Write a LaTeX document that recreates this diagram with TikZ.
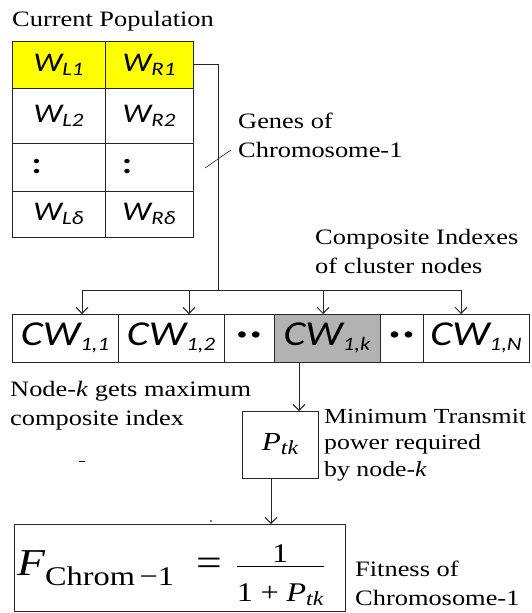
\documentclass[tikz,border=0pt]{standalone}
\usepackage{fontspec}
\setmainfont[FakeStretch=1.2]{Liberation Serif}
\newfontfamily\calib[FakeStretch=1.2]{Carlito}
\usetikzlibrary{arrows.meta, positioning}
\definecolor{geneyellow}{HTML}{FFFF00}
\definecolor{maxgray}{HTML}{B2B2B2}
\newcommand{\gsub}[2]{{\calib\itshape\fontsize{27}{27}\selectfont #1\raisebox{-4pt}{\fontsize{19}{19}\selectfont #2}}}
\newcommand{\cwsub}[1]{{\calib\itshape\fontsize{35}{35}\selectfont CW\raisebox{-5pt}{\fontsize{19}{19}\selectfont #1}}}
\newcommand{\gdots}{{\calib\bfseries\fontsize{30}{30}\selectfont :}}
\newcommand{\skipdots}{{\calib\bfseries\fontsize{34}{34}\selectfont ·\hspace{3pt}·}}
\newcommand{\ptksub}[2]{{\fontsize{#1}{#1}\selectfont\itshape P\raisebox{-4pt}{\fontsize{#2}{#2}\selectfont tk}}}
\newcommand{\fsz}[1]{\mbox{\fontsize{27}{27}\selectfont #1}}

\begin{document}
\begin{tikzpicture}[x=1pt, y=-1pt,
  cell/.style={rectangle, draw=black!85, line width=1pt, inner sep=0pt, outer sep=0pt},
  lbl/.style={font=\fontsize{22}{29}\selectfont, align=left, anchor=base west, inner sep=0pt},
  link/.style={draw=black!85, line width=0.9pt},
  arr/.style={link, -{Straight Barb[length=6pt, width=12pt]}}
]
  \useasboundingbox (0,0) rectangle (531,613);

  % current population table
  \node[lbl] (curpop) at (12,27) {Current Population};
  \node[cell, fill=geneyellow, minimum width=93, minimum height=47] (wl1) at (58.5,64.5) {\gsub{W}{L1}};
  \node[cell, fill=geneyellow, minimum width=88, minimum height=47, right=0pt of wl1] (wr1) {\gsub{W}{R1}};
  \node[cell, minimum width=93, minimum height=55, below=0pt of wl1] (wl2) {\gsub{W}{L2}};
  \node[cell, minimum width=88, minimum height=55, right=0pt of wl2] (wr2) {\gsub{W}{R2}};
  \node[cell, minimum width=93, minimum height=48, below=0pt of wl2] (wl3) {\makebox[54pt][l]{\gdots}};
  \node[cell, minimum width=88, minimum height=48, right=0pt of wl3] (wr3) {\makebox[54pt][l]{\gdots}};
  \node[cell, minimum width=93, minimum height=46, below=0pt of wl3] (wld) {\gsub{W}{Lδ}};
  \node[cell, minimum width=88, minimum height=46, right=0pt of wld] (wrd) {\gsub{W}{Rδ}};

  % chromosome of composite indexes
  \node[cell, minimum width=106, minimum height=48] (cw11) at (65,338) {\cwsub{1,1}};
  \node[cell, minimum width=106, minimum height=48, right=0pt of cw11] (cw12) {\cwsub{1,2}};
  \node[cell, minimum width=50, minimum height=48, right=0pt of cw12] (dd1) {\skipdots};
  \node[cell, fill=maxgray, minimum width=106, minimum height=48, right=0pt of dd1] (cw1k) {\cwsub{1,k}};
  \node[cell, minimum width=43, minimum height=48, right=0pt of cw1k] (dd2) {\skipdots};
  \node[cell, minimum width=106, minimum height=48, right=0pt of dd2] (cw1N) {\cwsub{1,N}};

  \node[cell, minimum width=76, minimum height=67] (ptk) at (280,444.5) {\ptksub{26}{20}};
  \node[cell, minimum width=331, minimum height=87] (fitbox) at (179.5,567.5) {};
  \node[anchor=base west, inner sep=0pt] (fitval) at (17,575)
       {{\fontsize{38}{38}\selectfont\itshape F}\raisebox{-10pt}{\fontsize{27}{27}\selectfont Chrom\,−1}%
        \hspace{22pt}{\fontsize{38}{38}\selectfont =}\hspace{14pt}%
        \raisebox{6pt}{$\displaystyle\frac{\fsz{1}}{\fsz{\rule{0pt}{34pt}1\;+\;\ptksub{27}{20}}}$}};

  % labels
  \node[lbl] (genes) at (238,157) {Genes of\\Chromosome-1};
  \node[lbl] (cidx) at (315,273) {Composite Indexes\\of cluster nodes};
  \node[lbl] (maxk) at (10,425) {Node-\textit{k} gets maximum\\composite index};
  \node[lbl, font=\fontsize{21.5}{26.5}\selectfont] (mintx) at (324,476) {Minimum Transmit\\power required\\by node-\textit{k}};
  \node[lbl] (fitlbl) at (355,605) {Fitness of\\Chromosome-1};

  % connectors
  \coordinate (drop) at (218,290);
  \coordinate (bus1) at (82,290);
  \coordinate (bus2) at (189,290);
  \coordinate (bus3) at (323,290);
  \coordinate (bus4) at (461,290);
  \coordinate (kin) at (299,0);
  \coordinate (kout) at (271,0);
  \draw[link] (wr1.east) -| (drop);
  \draw[link] (bus1) -- (bus4);
  \foreach \b/\c in {bus1/cw11, bus2/cw12, bus3/cw1k, bus4/cw1N}
    \draw[arr] (\b) -- (\b |- \c.north);
  \draw[arr] (cw1k.south -| kin) -- (ptk.north -| kin);
  \draw[arr] (ptk.south -| kout) -- (fitbox.north -| kout);
  \draw[link, line width=0.6pt] (205,168) -- (231,150);

  % stray marks
  \draw[line width=0.8pt] (79,461) -- (85,461);
  \fill (211,521) circle (0.9);
\end{tikzpicture}
\end{document}
